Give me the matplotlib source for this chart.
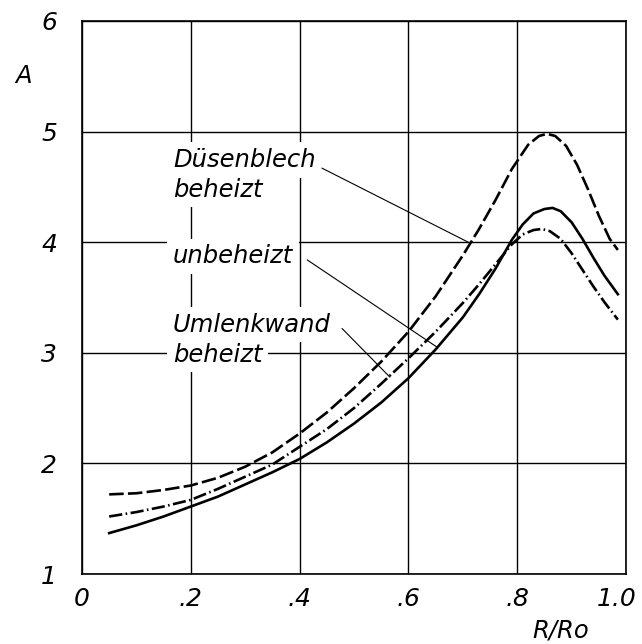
import numpy as np
import matplotlib.pyplot as plt
import matplotlib.transforms as mtransforms

# curve readings, R/Ro vs A
dusen_x = [0.05, 0.10, 0.15, 0.20, 0.25, 0.30, 0.35, 0.40, 0.45, 0.50, 0.55, 0.60, 0.65, 0.70,
           0.73, 0.76, 0.79, 0.82, 0.84, 0.855, 0.87, 0.89, 0.91, 0.93, 0.95, 0.97, 0.985]
dusen_y = [1.72, 1.73, 1.76, 1.80, 1.87, 1.97, 2.10, 2.27, 2.46, 2.68, 2.92, 3.19, 3.51, 3.88,
           4.12, 4.38, 4.66, 4.88, 4.96, 4.98, 4.96, 4.87, 4.70, 4.48, 4.24, 4.03, 3.93]

umlenk_x = [0.05, 0.10, 0.15, 0.20, 0.25, 0.30, 0.35, 0.40, 0.45, 0.50, 0.55, 0.60, 0.65, 0.70,
            0.73, 0.76, 0.79, 0.81, 0.83, 0.845, 0.86, 0.88, 0.90, 0.92, 0.94, 0.96, 0.985]
umlenk_y = [1.52, 1.56, 1.61, 1.67, 1.77, 1.88, 1.99, 2.15, 2.31, 2.50, 2.72, 2.95, 3.19, 3.45,
            3.62, 3.80, 3.98, 4.07, 4.11, 4.12, 4.10, 4.03, 3.90, 3.75, 3.60, 3.46, 3.30]

unbeh_x = [0.05, 0.10, 0.15, 0.20, 0.25, 0.30, 0.35, 0.40, 0.45, 0.50, 0.55, 0.60, 0.65, 0.70,
           0.73, 0.76, 0.79, 0.81, 0.83, 0.85, 0.865, 0.88, 0.90, 0.92, 0.94, 0.96, 0.985]
unbeh_y = [1.37, 1.44, 1.52, 1.61, 1.70, 1.81, 1.92, 2.04, 2.19, 2.36, 2.55, 2.77, 3.03, 3.32,
           3.53, 3.76, 4.02, 4.16, 4.26, 4.30, 4.31, 4.28, 4.18, 4.03, 3.86, 3.70, 3.53]

xticks = [0, 0.2, 0.4, 0.6, 0.8, 1.0]
xticklabels = ["0", ".2", ".4", ".6", ".8", "1.0"]
yticks = [1, 2, 3, 4, 5, 6]

fig = plt.figure(figsize=(6.42, 6.44), dpi=100)
ax = fig.add_axes([82/642, 70/644, 544/642, 553/644])
ax.set_xlim(0, 1.0)
ax.set_ylim(1, 6)

ax.set_xticks(xticks)
ax.set_xticklabels(xticklabels)
ax.set_yticks(yticks)
ax.tick_params(length=0, labelsize=18, pad=9)
ax.tick_params(axis="y", pad=18)
for lab in ax.get_xticklabels() + ax.get_yticklabels():
    lab.set_fontstyle("italic")
# pull "1.0" a little left so it stays inside the figure
last = ax.get_xticklabels()[-1]
last.set_transform(last.get_transform() + mtransforms.ScaledTranslation(-7/72, 0, fig.dpi_scale_trans))

ax.grid(True, color="black", lw=1.0, zorder=0)
ax.set_axisbelow(True)
for s in ax.spines.values():
    s.set_linewidth(1.2)

lw = 1.9
ax.plot(dusen_x, dusen_y, color="black", lw=lw, dashes=(5.5, 1.6), zorder=3)
ax.plot(umlenk_x, umlenk_y, color="black", lw=lw, dashes=(5.0, 1.3, 0.6, 1.3), zorder=3)
ax.plot(unbeh_x, unbeh_y, color="black", lw=lw, zorder=3)

txt = dict(fontsize=17.5, fontstyle="italic", ha="left", va="baseline", zorder=2,
           bbox=dict(fc="white", ec="none", pad=4))
lead = dict(arrowstyle="-", color="black", lw=0.8, shrinkA=0, shrinkB=0)

ax.text(0.167, 4.68, "Düsenblech", **txt)
ax.text(0.167, 4.41, "beheizt", **txt)
ax.annotate("", xy=(0.71, 4.0), xytext=(0.441, 4.67), arrowprops=lead)

ax.text(0.167, 3.81, "unbeheizt", **txt)
ax.annotate("", xy=(0.653, 3.05), xytext=(0.414, 3.84), arrowprops=lead)

ax.text(0.167, 3.19, "Umlenkwand", **txt)
ax.text(0.167, 2.92, "beheizt", **txt)
ax.annotate("", xy=(0.566, 2.78), xytext=(0.478, 3.22), arrowprops=lead)

ax.text(-0.108, 5.5, "A", fontsize=17.5, fontstyle="italic", ha="center", va="center")
ax.text(0.88, 0.49, "R/Ro", fontsize=17.5, fontstyle="italic", ha="center", va="center")

fig.savefig("out.png", dpi=100)
